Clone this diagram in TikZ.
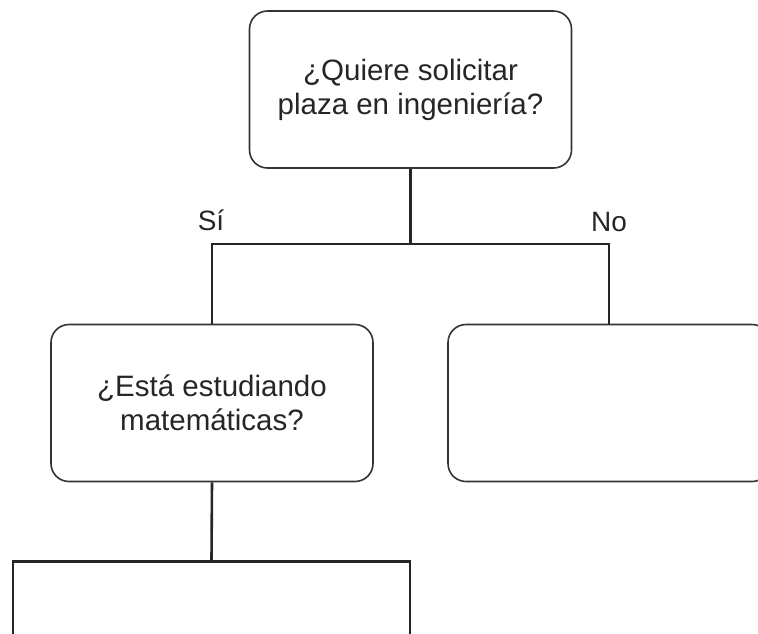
\documentclass[tikz,border=0pt]{standalone}
\usepackage{fontspec}
\setmainfont{Liberation Sans}
\usetikzlibrary{positioning}
\begin{document}
\begin{tikzpicture}[
				x=1pt, y=-1pt,
				caja/.style = {rectangle, draw=black!80, line width=1.6pt,% rounded question boxes
					rounded corners=18pt, minimum width=322pt, minimum height=157pt,
					inner sep=0pt, align=center, text=black!85,
					font=\fontsize{29.5}{34}\selectfont},
				base/.style = {rectangle, draw=black!85, line width=2.8pt,% square box, cut at the bottom
					minimum width=397pt, minimum height=160pt, inner sep=0pt},
				linea/.style = {draw=black!85, line width=2.6pt},
				rotulo/.style = {text=black!85, inner sep=0pt,
					font=\fontsize{28}{32}\selectfont},
				]
				\useasboundingbox (0,0) rectangle (758,633);
				\clip (0,0) rectangle (758,633);
				\node[caja] (pregunta) at (410.5,89.5) {¿Quiere solicitar\\plaza en ingeniería?};
				\node[caja] (mate) at (212,403) {¿Está estudiando\\matemáticas?};
				\node[caja] (vacia) at (609,403) {};
				\node[base, anchor=north] (sigue) at (211.5,560) {};
				\coordinate (rama) at (410.5,244);
				\draw[linea] (pregunta.south) -- (rama);
				\draw[linea] (mate.north) |- (rama) -| (vacia.north);
				\draw[linea] (mate.south) -- (sigue.north);
				\node[rotulo, anchor=base] (si) at (211,230) {Sí};
				\node[rotulo, anchor=base] (nolab) at (609,231) {No};
			\end{tikzpicture}
\end{document}
